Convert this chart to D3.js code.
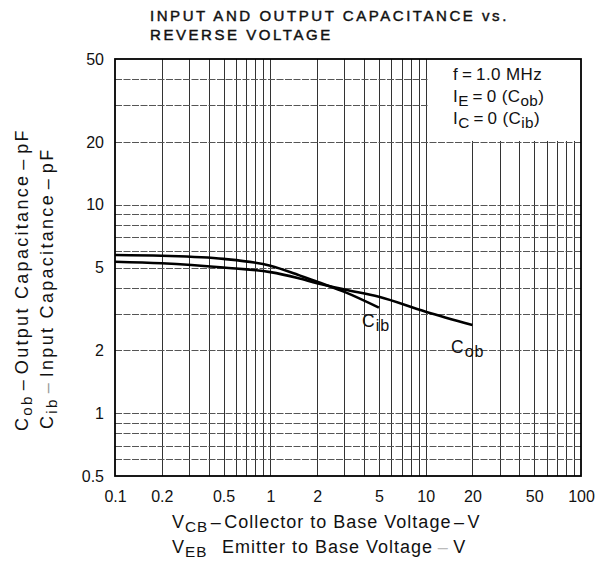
<!DOCTYPE html>
<html>
<head>
<meta charset="utf-8">
<script src="https://cdn.jsdelivr.net/npm/d3@7"></script>
<style>
  body { margin: 0; background: #fff; }
  text { font-family: "Liberation Sans", Arial, sans-serif; fill: #111; }
</style>
</head>
<body>
<svg id="chart" width="603" height="561"></svg>
<script>
// values (pF vs volts)
const cobVoltage = [0.1, 0.2, 0.5, 1, 1.5, 2, 3, 5, 10, 20];
const cobValues = [5.33, 5.24, 5.0, 4.75, 4.45, 4.2, 3.92, 3.62, 3.07, 2.65];
const cibVoltage = [0.1, 0.2, 0.5, 1, 1.5, 2, 3, 5];
const cibValues = [5.74, 5.69, 5.5, 5.1, 4.62, 4.27, 3.82, 3.21];
const xTicks = [0.1, 0.2, 0.5, 1, 2, 5, 10, 20, 50, 100];
const yTicks = [0.5, 1, 2, 5, 10, 20, 50];

const svg = d3.select("#chart");
const margin = { top: 59, right: 22, bottom: 85, left: 115 };
const width = 603, height = 561;

const x = d3.scaleLog().domain([0.1, 100]).range([margin.left, width - margin.right]);
const y = d3.scaleLog().domain([0.5, 50]).range([height - margin.bottom, margin.top]);

// grid: every 1..9 step of each decade
const xGrid = [];
[0.1, 1, 10].forEach(d => { for (let k = 1; k <= 9; k++) xGrid.push(d * k); });
const yGrid = [];
[0.1, 1, 10].forEach(d => { for (let k = 1; k <= 9; k++) { const v = +(d * k).toPrecision(2); if (v >= 0.5 && v <= 50) yGrid.push(v); } });

const grid = svg.append("g").attr("stroke", "#333").attr("stroke-width", 1);
grid.selectAll("line.v").data(xGrid.slice(1)).join("line")
  .attr("class", "v")
  .attr("x1", d => Math.round(x(d)) + 0.5).attr("x2", d => Math.round(x(d)) + 0.5)
  .attr("y1", y(0.5)).attr("y2", y(50));
grid.selectAll("line.h").data(yGrid.filter(v => v > 0.5 && v < 50)).join("line")
  .attr("class", "h")
  .attr("stroke", "#555")
  .attr("stroke-dasharray", "7,1.5")
  .attr("x1", x(0.1)).attr("x2", x(100))
  .attr("y1", d => Math.round(y(d)) + 0.5).attr("y2", d => Math.round(y(d)) + 0.5);

// clear area for the conditions note
svg.append("rect")
  .attr("x", Math.round(x(10)) + 1.5)
  .attr("y", y(50))
  .attr("width", x(100) - x(10) - 1.5)
  .attr("height", y(20) - y(50) - 1)
  .attr("fill", "#fff");

// frame
svg.append("rect")
  .attr("x", x(0.1)).attr("y", y(50))
  .attr("width", x(100) - x(0.1)).attr("height", y(0.5) - y(50))
  .attr("fill", "none").attr("stroke", "#000").attr("stroke-width", 1.8);

// axes (labels only)
const xAxis = svg.append("g")
  .attr("transform", `translate(0,${y(0.5) + 12})`)
  .call(d3.axisBottom(x).tickValues(xTicks).tickSize(0).tickFormat(d3.format("~g")));
xAxis.select(".domain").remove();
xAxis.selectAll("text").attr("font-size", 16).attr("fill", "#111")
  .style("font-family", "'Liberation Sans', Arial, sans-serif");

const yAxis = svg.append("g")
  .attr("transform", `translate(${x(0.1) - 8},0)`)
  .call(d3.axisLeft(y).tickValues(yTicks).tickSize(0).tickFormat(d3.format("~g")));
yAxis.select(".domain").remove();
yAxis.selectAll("text").attr("font-size", 16).attr("fill", "#111")
  .style("font-family", "'Liberation Sans', Arial, sans-serif");

// curves
const line = d3.line().x(d => x(d[0])).y(d => y(d[1])).curve(d3.curveMonotoneX);
svg.append("path")
  .datum(d3.zip(cobVoltage, cobValues))
  .attr("d", line).attr("fill", "none").attr("stroke", "#000").attr("stroke-width", 2.6);
svg.append("path")
  .datum(d3.zip(cibVoltage, cibValues))
  .attr("d", line).attr("fill", "none").attr("stroke", "#000").attr("stroke-width", 2.6);

// helper for text with subscripts
function subText(g, xPos, yPos, parts, opts = {}) {
  const size = opts.size || 16;
  const t = g.append("text").attr("x", xPos).attr("y", yPos).attr("font-size", size);
  if (opts.spacing) t.attr("letter-spacing", opts.spacing);
  if (opts.transform) t.attr("transform", opts.transform);
  parts.forEach(p => {
    const s = t.append("tspan").text(p.t);
    if (p.sub) s.attr("baseline-shift", "-28%").attr("font-size", size * (opts.subScale || 0.85));
    if (p.fill) s.attr("fill", p.fill);
  });
  return t;
}

// curve labels
subText(svg, 362, 327, [{ t: "C" }, { t: "ib", sub: true }], { size: 17.5, spacing: 1, subScale: 0.92 });
subText(svg, 451, 353, [{ t: "C" }, { t: "ob", sub: true }], { size: 17.5, spacing: 1, subScale: 0.92 });

// conditions note
const noteOpts = { size: 17, spacing: 0.4, subScale: 0.9 };
subText(svg, 453, 80, [{ t: "f\u2009=\u20091.0 MHz" }], noteOpts);
subText(svg, 453, 102, [{ t: "I" }, { t: "E", sub: true }, { t: "\u2009=\u20090 (C" }, { t: "ob", sub: true }, { t: ")" }], noteOpts);
subText(svg, 453, 124, [{ t: "I" }, { t: "C", sub: true }, { t: "\u2009=\u20090 (C" }, { t: "ib", sub: true }, { t: ")" }], noteOpts);

// title
["INPUT AND OUTPUT CAPACITANCE vs.", "REVERSE VOLTAGE"].forEach((s, i) => {
  svg.append("text").attr("x", 150).attr("y", 21 + i * 18.5).attr("font-size", 15)
    .attr("letter-spacing", 2.55).attr("stroke", "#111").attr("stroke-width", 0.45)
    .text(s);
});

// y axis title
subText(svg, 0, 0, [{ t: "C" }, { t: "ob", sub: true }, { t: "\u200a\u2013\u200aOutput Capacitance\u200a\u2013\u200apF" }],
  { transform: "translate(28,431) rotate(-90)", size: 18, spacing: 2.3 });
subText(svg, 0, 0, [{ t: "C" }, { t: "ib", sub: true }, { t: "\u200a" }, { t: "\u2013", fill: "#999" }, { t: "\u200aInput Capacitance\u200a\u2013\u200apF" }],
  { transform: "translate(53,429) rotate(-90)", size: 18, spacing: 2.3 });

// x axis title
subText(svg, 172, 528, [{ t: "V" }, { t: "CB", sub: true }, { t: "\u200a\u2013\u200aCollector to Base Voltage\u200a\u2013\u200aV" }], { size: 18, spacing: 1 });
subText(svg, 172, 553, [{ t: "V" }, { t: "EB", sub: true }, { t: "\u2002\u2009Emitter to Base Voltage\u2009" }, { t: "\u2013", fill: "#bbb" }, { t: "\u2009V" }], { size: 18, spacing: 1 });
</script>
</body>
</html>
